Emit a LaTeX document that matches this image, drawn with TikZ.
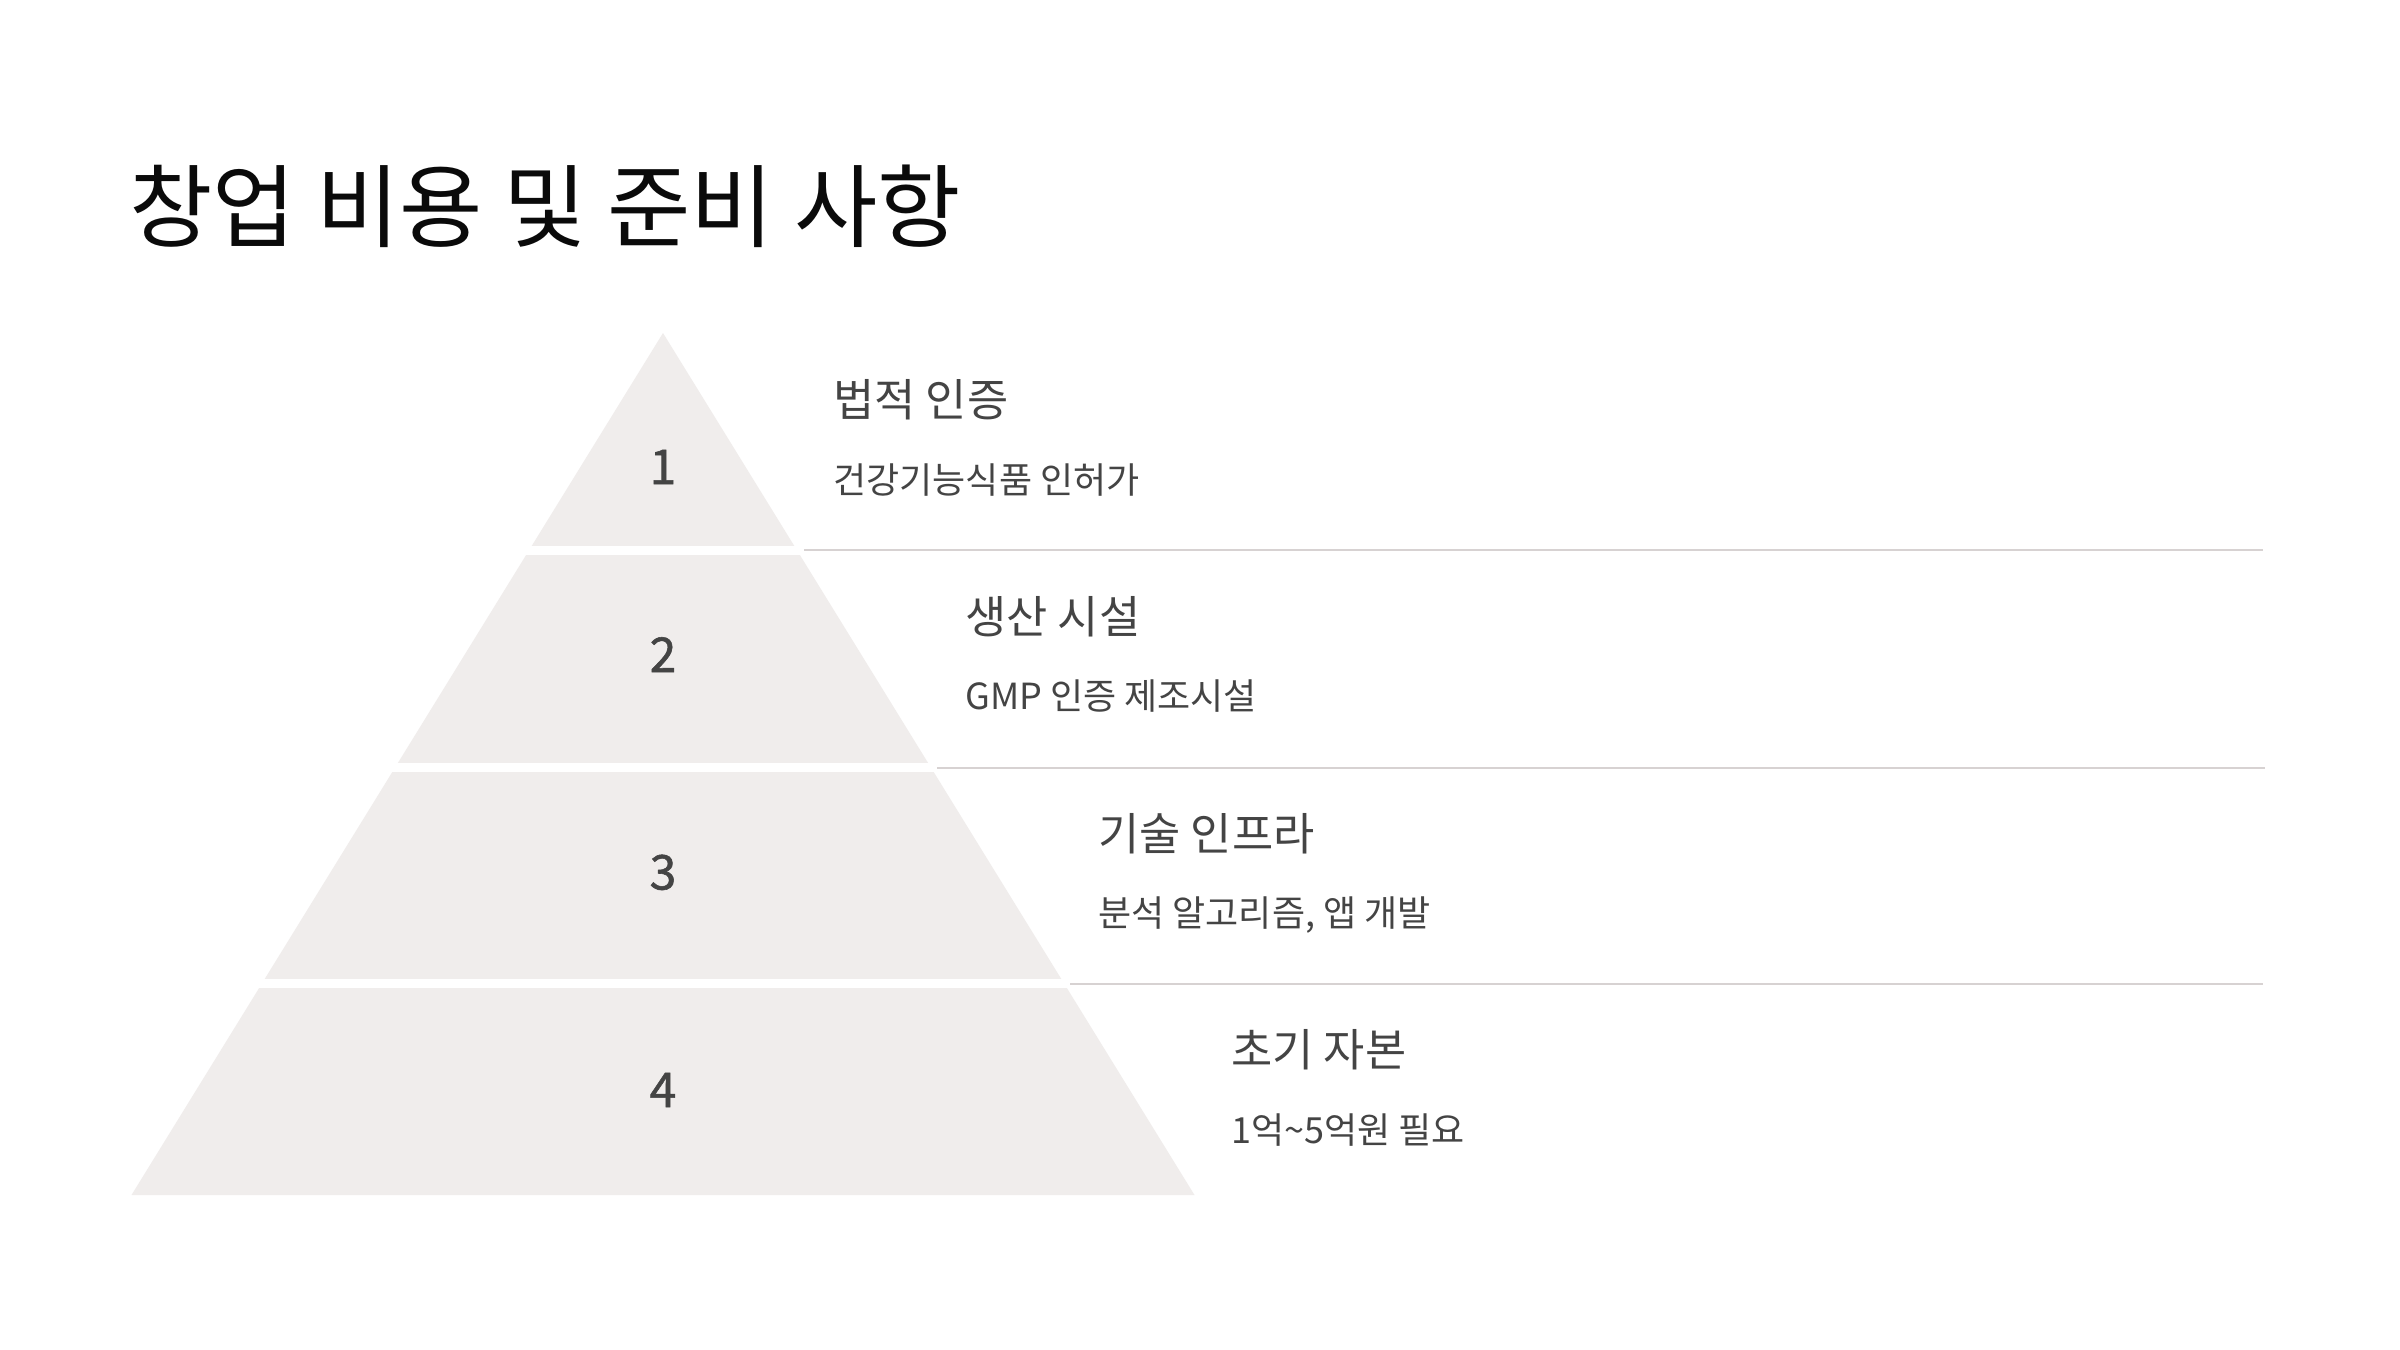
\documentclass[tikz,border=0pt]{standalone}
\usepackage{fontspec}
\setmainfont{Noto Sans CJK KR}
\newfontfamily\numfont[FakeBold=1.2]{Noto Sans CJK KR}
\definecolor{tierfill}{HTML}{F0EDEC}
\definecolor{rulegray}{HTML}{D7D2D2}
\definecolor{txtgray}{HTML}{444444}
\definecolor{titleblack}{HTML}{0A0A0A}
\tikzset{
  titletext/.style={anchor=base west, inner sep=0pt, text=titleblack, font=\fontsize{45.3}{52}\selectfont},
  headtext/.style={anchor=base west, inner sep=0pt, text=txtgray, font=\fontsize{22.4}{26}\selectfont},
  subtext/.style={anchor=base west, inner sep=0pt, text=txtgray, font=\fontsize{18}{22}\selectfont},
  numtext/.style={anchor=base, inner sep=0pt, text=txtgray, font=\numfont\fontsize{24}{28}\selectfont},
  tierband/.style={fill=tierfill},
  divider/.style={draw=rulegray, line width=1pt}
}
\begin{document}
\begin{tikzpicture}[x=0.5pt, y=-0.5pt]
\useasboundingbox[fill=white] (0,0) rectangle (2400,1350);

% title
\node[titletext] (title) at (129,240) {창업 비용 및 준비 사항};

% pyramid tiers
\begin{scope}
  \clip (663,333) -- (131.5,1195) -- (1194.5,1195) -- cycle;
  \fill[tierband] (0,300) rectangle (2400,545.5);
  \fill[tierband] (0,554.5) rectangle (2400,762.5);
  \fill[tierband] (0,771.5) rectangle (2400,979);
  \fill[tierband] (0,988) rectangle (2400,1196);
\end{scope}

% numbers
\node[numtext] (n1) at (663,484) {1};
\node[numtext] (n2) at (663,672) {2};
\node[numtext] (n3) at (663,889.5) {3};
\node[numtext] (n4) at (663,1107) {4};

% dividers
\coordinate (d1a) at (804,549.5);
\coordinate (d1b) at (2263,549.5);
\coordinate (d2a) at (937,767.5);
\coordinate (d2b) at (2265,767.5);
\coordinate (d3a) at (1070,984);
\coordinate (d3b) at (2263,984);
\draw[divider] (d1a) -- (d1b);
\draw[divider] (d2a) -- (d2b);
\draw[divider] (d3a) -- (d3b);

% texts
\node[headtext] (h1) at (833,416.5) {법적 인증};
\node[subtext]  (s1) at (833,493) {건강기능식품 인허가};
\node[headtext] (h2) at (965,633) {생산 시설};
\node[subtext]  (s2) at (965,709.5) {GMP 인증 제조시설};
\node[headtext] (h3) at (1098,850) {기술 인프라};
\node[subtext]  (s3) at (1098,926.5) {분석 알고리즘, 앱 개발};
\node[headtext] (h4) at (1231,1066.5) {초기 자본};
\node[subtext]  (s4) at (1231,1143) {1억\textasciitilde5억원 필요};
\end{tikzpicture}
\end{document}
